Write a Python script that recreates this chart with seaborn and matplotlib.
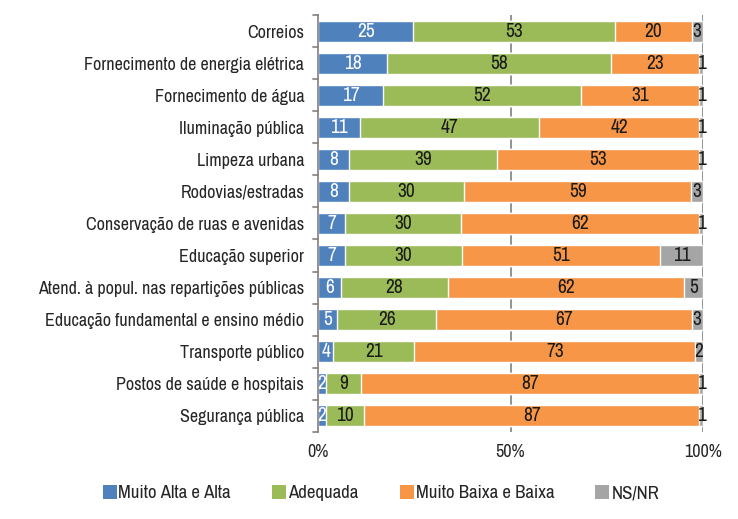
import numpy as np
import pandas as pd
import matplotlib
matplotlib.use("Agg")
import matplotlib.pyplot as plt
from matplotlib.patches import Patch
import seaborn as sns

categorias = ["Correios", "Fornecimento de energia elétrica", "Fornecimento de água",
              "Iluminação pública", "Limpeza urbana", "Rodovias/estradas",
              "Conservação de ruas e avenidas", "Educação superior",
              "Atend. à popul. nas repartições públicas",
              "Educação fundamental e ensino médio", "Transporte público",
              "Postos de saúde e hospitais", "Segurança pública"]
muito_alta = [25, 18, 17, 11, 8, 8, 7, 7, 6, 5, 4, 2, 2]
adequada = [53, 58, 52, 47, 39, 30, 30, 30, 28, 26, 21, 9, 10]
muito_baixa = [20, 23, 31, 42, 53, 59, 62, 51, 62, 67, 73, 87, 87]
ns_nr = [3, 1, 1, 1, 1, 3, 1, 11, 5, 3, 2, 1, 1]
series = ["Muito Alta e Alta", "Adequada", "Muito Baixa e Baixa", "NS/NR"]
cores = ["#4F81BD", "#9BBB59", "#F79646", "#A5A5A5"]

sns.set_style("white")
plt.rcParams['font.family'] = ['Archivo Narrow', 'DejaVu Sans']

vals = np.array([muito_alta, adequada, muito_baixa, ns_nr], dtype=float)
pct = vals / vals.sum(axis=0) * 100
cum = np.cumsum(pct, axis=0)

fig = plt.figure(figsize=(7.38, 5.19), dpi=100)
ax = fig.add_axes([0.431, 0.168, 0.5216, 0.803])

# stacked bars: draw cumulative totals back to front
for i in range(3, -1, -1):
    df = pd.DataFrame({"cat": categorias, "val": cum[i]})
    sns.barplot(data=df, y="cat", x="val", color=cores[i], orient="h",
                width=0.66, saturation=1, ax=ax, zorder=2)

# labels
for i in range(4):
    left = cum[i] - pct[i]
    for j in range(len(categorias)):
        xc = left[j] + pct[i][j] / 2
        ax.text(xc, j, str(int(vals[i][j])), ha="center", va="center",
                fontsize=14, color="white" if i == 0 else "#1a1a1a", zorder=3)

ax.set_xlim(0, 100)
ax.set_ylim(12.5, -0.5)
ax.set_xticks([0, 50, 100])
ax.set_xticklabels(["0%", "50%", "100%"], fontsize=13)
ax.set_xlabel("")
ax.set_ylabel("")
ax.tick_params(axis="y", labelsize=13, length=0, pad=10)
ax.tick_params(axis="x", length=0, pad=9)
for x in [50, 100]:
    ax.axvline(x, color="#808080", lw=1.2, zorder=1)
for s in ["top", "right", "bottom"]:
    ax.spines[s].set_visible(False)
ax.spines["left"].set_color("#808080")
ax.spines["left"].set_linewidth(1.2)
# category boundary tick marks
for b in np.arange(-0.5, 13, 1):
    ax.plot([-1.2, 0], [b, b], color="#808080", lw=1.2, clip_on=False, zorder=1)

handles = [Patch(facecolor=c, edgecolor="none") for c in cores]
fig.legend(handles, series, loc="center", bbox_to_anchor=(0.516, 0.05), ncol=4,
           frameon=False, fontsize=13.5, handlelength=0.75, handleheight=0.75,
           handletextpad=0.1, columnspacing=2.2)

fig.savefig("out.png", dpi=100)
